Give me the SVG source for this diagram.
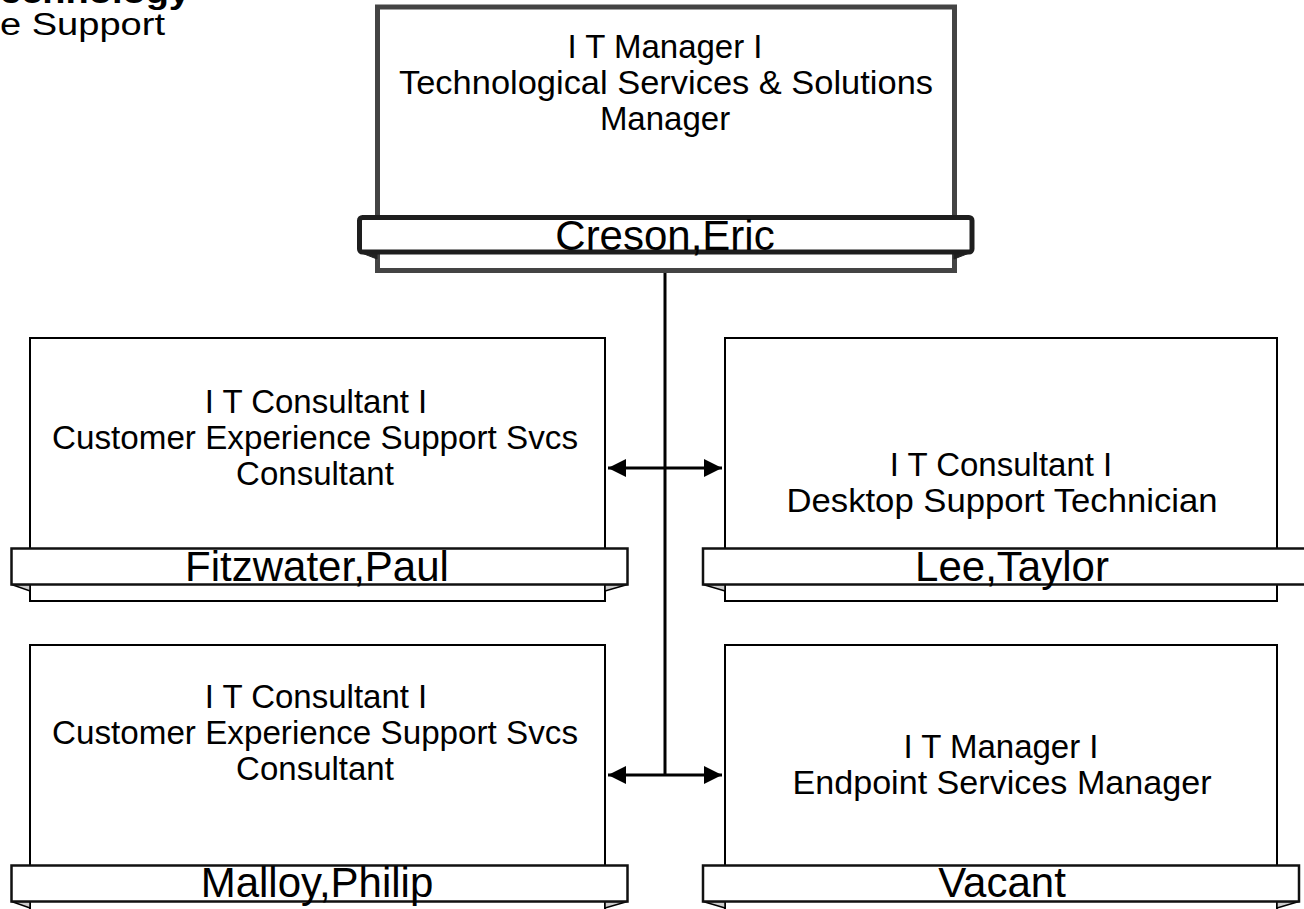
<svg xmlns="http://www.w3.org/2000/svg" width="1304" height="909" viewBox="0 0 1304 909">
<style>
  .t{font-family:"Liberation Sans","Open Sans",sans-serif;font-size:33px;fill:#000;text-anchor:middle}
  .n{font-family:"Liberation Sans","Open Sans",sans-serif;font-size:42px;fill:#000;text-anchor:middle}
  .hd{font-family:"Liberation Sans","Open Sans",sans-serif;font-size:31px;fill:#000}
  .box{fill:#fff;stroke:#000;stroke-width:2}
  .band{fill:#fff;stroke:#111;stroke-width:2.5}
  .fold{fill:#ccc;stroke:#000;stroke-width:1.5}
  .topbox{fill:#fff;stroke:#444;stroke-width:5}
  .topband{fill:#fff;stroke:#1e1e1e;stroke-width:5}
  .topfold{fill:#222;stroke:#222;stroke-width:1}
  .ln{stroke:#000;stroke-width:3;fill:none}
</style>
<defs>
  <marker id="ah" viewBox="0 0 10 10" refX="10" refY="5" markerWidth="6.5" markerHeight="6" orient="auto-start-reverse" markerUnits="strokeWidth">
    <path d="M0,0 L10,5 L0,10 z" fill="#000"/>
  </marker>
</defs>
<rect width="1304" height="909" fill="#fff"/>
<g id="header">
  <text class="hd" x="0" y="3" font-size="28" font-weight="bold" textLength="190" lengthAdjust="spacingAndGlyphs">echnology</text>
  <text class="hd" x="0" y="35" textLength="165" lengthAdjust="spacingAndGlyphs">e Support</text>
</g>
<g id="connectors">
  <line class="ln" x1="665" y1="272" x2="665" y2="776"/>
  <line class="ln" x1="608" y1="468" x2="722" y2="468" marker-start="url(#ah)" marker-end="url(#ah)"/>
  <line class="ln" x1="608" y1="775" x2="722" y2="775" marker-start="url(#ah)" marker-end="url(#ah)"/>
</g>
<g id="node-creson">
  <rect class="topbox" x="377.5" y="7" width="577" height="263.5"/>
  <path class="topfold" d="M359,252 L377,259 L377,252 z"/>
  <path class="topfold" d="M972,252 L954,259 L954,252 z"/>
  <rect class="topband" x="359.5" y="217.5" width="612.5" height="34.5" rx="3"/>
  <text class="t" x="665" y="58">I T Manager I</text>
  <text class="t" x="666" y="94" textLength="534" lengthAdjust="spacingAndGlyphs">Technological Services &amp; Solutions</text>
  <text class="t" x="665" y="130">Manager</text>
  <text class="n" x="665" y="250">Creson,Eric</text>
</g>
<g id="node-fitzwater">
  <rect class="box" x="30" y="338" width="575" height="263"/>
  <path class="fold" d="M11.5,584.5 L30,591 L30,584.5 z"/>
  <path class="fold" d="M627.5,584.5 L605,591 L605,584.5 z"/>
  <rect class="band" x="11.5" y="548.5" width="616" height="36"/>
  <text class="t" x="316" y="413">I T Consultant I</text>
  <text class="t" x="315" y="449" textLength="526" lengthAdjust="spacingAndGlyphs">Customer Experience Support Svcs</text>
  <text class="t" x="315" y="485">Consultant</text>
  <text class="n" x="317" y="581">Fitzwater,Paul</text>
</g>
<g id="node-lee">
  <rect class="box" x="725" y="338" width="552" height="263"/>
  <path class="fold" d="M703,584.5 L725,591 L725,584.5 z"/>
  <rect class="band" x="703" y="548.5" width="603" height="36"/>
  <text class="t" x="1001" y="476">I T Consultant I</text>
  <text class="t" x="1002" y="512" textLength="431" lengthAdjust="spacingAndGlyphs">Desktop Support Technician</text>
  <text class="n" x="1012" y="581">Lee,Taylor</text>
</g>
<g id="node-malloy">
  <rect class="box" x="30" y="645" width="575" height="275"/>
  <path class="fold" d="M11.5,901.5 L30,908 L30,901.5 z"/>
  <path class="fold" d="M627.5,901.5 L605,908 L605,901.5 z"/>
  <rect class="band" x="11.5" y="865.5" width="616" height="36"/>
  <text class="t" x="316" y="708">I T Consultant I</text>
  <text class="t" x="315" y="744" textLength="526" lengthAdjust="spacingAndGlyphs">Customer Experience Support Svcs</text>
  <text class="t" x="315" y="780">Consultant</text>
  <text class="n" x="317" y="897">Malloy,Philip</text>
</g>
<g id="node-vacant">
  <rect class="box" x="725" y="645" width="552" height="275"/>
  <path class="fold" d="M703,901.5 L725,908 L725,901.5 z"/>
  <path class="fold" d="M1299,901.5 L1277,908 L1277,901.5 z"/>
  <rect class="band" x="703" y="865.5" width="596" height="36"/>
  <text class="t" x="1001" y="758">I T Manager I</text>
  <text class="t" x="1002" y="794" textLength="419" lengthAdjust="spacingAndGlyphs">Endpoint Services Manager</text>
  <text class="n" x="1002" y="897">Vacant</text>
</g>
</svg>
